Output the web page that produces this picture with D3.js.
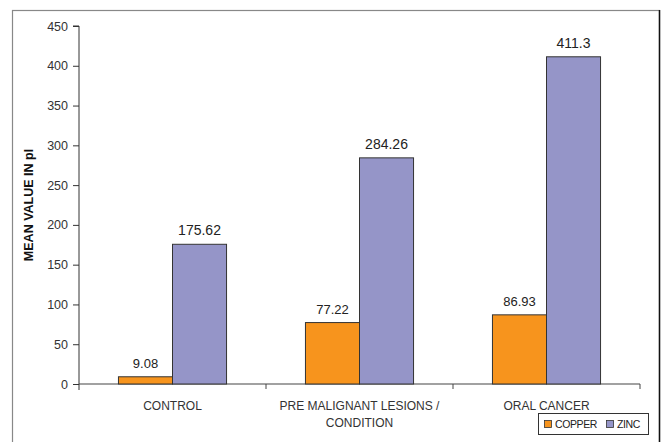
<!DOCTYPE html>
<html>
<head>
<meta charset="utf-8">
<script src="https://cdn.jsdelivr.net/npm/d3@7"></script>
<style>
  html, body { margin: 0; padding: 0; background: #fff; }
  svg { display: block; font-family: Arial, "Liberation Sans", sans-serif; }
</style>
</head>
<body>
<svg id="chart" width="661" height="442"></svg>
<script>
// Mean trace-element levels per group
const categories = [["CONTROL"], ["PRE MALIGNANT LESIONS /", "CONDITION"], ["ORAL CANCER"]];
const seriesNames = ["COPPER", "ZINC"];
const copper = [9.08, 77.22, 86.93];
const zinc = [175.62, 284.26, 411.3];
const copperLabels = ["9.08", "77.22", "86.93"];
const zincLabels = ["175.62", "284.26", "411.3"];
const yTicks = [0, 50, 100, 150, 200, 250, 300, 350, 400, 450];
const colors = ["#F7941D", "#9595C8"];

const svg = d3.select("#chart");
const plotLeft = 79, plotRight = 640, plotTop = 26, plotBottom = 384;

// outer frame
svg.append("rect").attr("x", 12.5).attr("y", 10.5).attr("width", 647).attr("height", 440)
  .attr("fill", "none").attr("stroke", "#888").attr("stroke-width", 1.2);
svg.append("line").attr("x1", 659.5).attr("x2", 659.5).attr("y1", 10).attr("y2", 442)
  .attr("stroke", "#111").attr("stroke-width", 1.5);

const x0 = d3.scaleBand().domain(d3.range(categories.length)).range([plotLeft, plotRight]).paddingInner(0).paddingOuter(0);
const groupPad = 0.211;
const x1 = d3.scaleBand().domain(seriesNames)
  .range([x0.bandwidth() * groupPad, x0.bandwidth() * (1 - groupPad)]);
const y = d3.scaleLinear().domain([0, 450]).range([plotBottom, plotTop]);

// y axis
const yAxis = svg.append("g").attr("transform", `translate(${plotLeft},0)`)
  .call(d3.axisLeft(y).tickValues(yTicks).tickSize(6).tickPadding(5));
yAxis.select(".domain").attr("stroke", "#333").attr("d", `M-6,${plotTop}H0V${plotBottom + 6}`);
yAxis.selectAll(".tick line").attr("stroke", "#333");
yAxis.selectAll(".tick text").attr("fill", "#333").style("font-size", "12.5px").style("font-family", "Arial, 'Liberation Sans', sans-serif");

// x axis
const xAxisG = svg.append("g").attr("transform", `translate(0,${plotBottom})`);
xAxisG.append("line").attr("x1", plotLeft).attr("x2", plotRight).attr("y1", 0).attr("y2", 0).attr("stroke", "#444").attr("stroke-width", 1.2);
d3.range(categories.length).forEach(i => {
  const xe = x0(i) + x0.bandwidth();
  xAxisG.append("line").attr("x1", xe).attr("x2", xe).attr("y1", 0).attr("y2", 5).attr("stroke", "#444");
});
const catText = xAxisG.selectAll("text.cat").data(categories).join("text")
  .attr("class", "cat")
  .attr("x", (d, i) => x0(i) + x0.bandwidth() / 2)
  .attr("y", 26)
  .attr("text-anchor", "middle")
  .attr("fill", "#333")
  .style("font-size", "12px");
catText.selectAll("tspan").data(d => d).join("tspan")
  .attr("x", function() { return d3.select(this.parentNode).attr("x"); })
  .attr("dy", (d, j) => j === 0 ? 0 : 17)
  .text(d => d);

// bars
const data = categories.map((c, i) => [
  { s: "COPPER", v: copper[i], label: copperLabels[i], c: colors[0] },
  { s: "ZINC", v: zinc[i], label: zincLabels[i], c: colors[1] }
]);
const groups = svg.selectAll("g.grp").data(data).join("g")
  .attr("class", "grp")
  .attr("transform", (d, i) => `translate(${x0(i)},0)`);
groups.selectAll("rect").data(d => d).join("rect")
  .attr("x", d => x1(d.s))
  .attr("y", d => y(d.v))
  .attr("width", x1.bandwidth())
  .attr("height", d => y(0) - y(d.v))
  .attr("fill", d => d.c)
  .attr("stroke", "#333")
  .attr("stroke-width", 1);
groups.selectAll("text").data(d => d).join("text")
  .attr("x", d => x1(d.s) + x1.bandwidth() / 2)
  .attr("y", d => y(d.v) - 9)
  .attr("text-anchor", "middle")
  .attr("fill", "#222")
  .style("font-size", d => d.s === "ZINC" ? "14px" : "13px")
  .text(d => d.label);

// y axis title
svg.append("text")
  .attr("transform", `translate(33,${(plotTop + plotBottom) / 2}) rotate(-90)`)
  .attr("text-anchor", "middle")
  .attr("fill", "#111")
  .style("font-size", "12.5px")
  .style("font-weight", "bold")
  .text("MEAN VALUE IN pl");

// legend
const lg = svg.append("g").attr("transform", "translate(538,413)");
lg.append("rect").attr("x", 0.5).attr("y", 0.5).attr("width", 110).attr("height", 21)
  .attr("fill", "#fff").attr("stroke", "#333");
const items = [{ n: "COPPER", c: colors[0], x: 6 }, { n: "ZINC", c: colors[1], x: 68 }];
items.forEach(it => {
  lg.append("rect").attr("x", it.x + 0.5).attr("y", 7.5).attr("width", 7).attr("height", 7)
    .attr("fill", it.c).attr("stroke", "#333").attr("stroke-width", 0.8);
  lg.append("text").attr("x", it.x + 11).attr("y", 15).attr("fill", "#222")
    .style("font-size", "10.5px").style("letter-spacing", "-0.4px").text(it.n);
});
</script>
</body>
</html>
